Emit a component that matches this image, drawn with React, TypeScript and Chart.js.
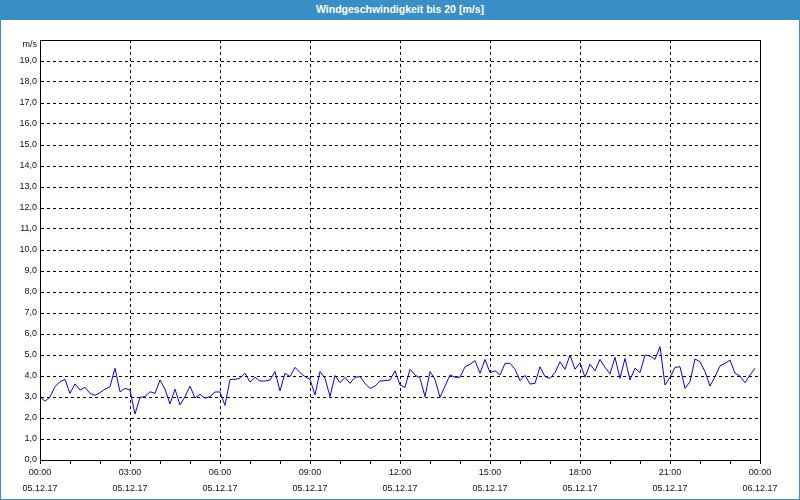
import React, { useEffect, useRef } from 'react';
import { Chart, registerables } from 'chart.js';

Chart.register(...registerables);

const TITLE = 'Windgeschwindigkeit bis 20 [m/s]';
const UNIT = 'm/s';
const INTERVAL_MIN = 10;
const DAY_MIN = 1440;

const windSpeed: number[] = [
  3.0, 2.8, 3.0, 3.5, 3.73, 3.84, 3.17, 3.62, 3.33, 3.46,
  3.17, 3.08, 3.21, 3.37, 3.49, 4.37, 3.25, 3.41, 3.33, 2.19,
  2.98, 3.02, 3.25, 3.17, 3.81, 3.37, 2.67, 3.37, 2.62, 3.02,
  3.52, 2.95, 3.13, 2.94, 3.02, 3.24, 3.24, 2.6, 3.84, 3.84,
  3.89, 4.13, 3.71, 3.94, 3.76, 3.76, 3.81, 4.21, 3.29, 4.13,
  3.97, 4.41, 4.16, 3.97, 3.84, 3.1, 4.21, 3.89, 3.02, 4.02,
  3.68, 3.94, 3.65, 3.94, 3.97, 3.65, 3.41, 3.52, 3.76, 3.78,
  3.81, 4.25, 3.57, 3.46, 4.32, 4.05, 3.89, 3.02, 4.21, 3.84,
  2.98, 3.52, 4.05, 3.94, 3.94, 4.44, 4.56, 4.73, 4.13, 4.79,
  4.16, 4.25, 4.05, 4.6, 4.6, 4.32, 3.78, 4.03, 3.62, 3.65,
  4.44, 3.97, 3.89, 4.16, 4.68, 4.32, 5.0, 4.32, 4.63, 3.94,
  4.56, 4.25, 4.79, 4.41, 4.1, 4.89, 3.89, 4.84, 3.81, 4.37,
  4.16, 5.0, 4.95, 4.79, 5.4, 3.57, 3.94, 4.41, 4.44, 3.41,
  3.73, 4.81, 4.68, 4.21, 3.52, 3.97, 4.48, 4.6, 4.76, 4.13,
  4.0, 3.68, 4.05, 4.37,
];

const timeLabels = ['00:00', '03:00', '06:00', '09:00', '12:00', '15:00', '18:00', '21:00', '00:00'];
const dateLabels = ['05.12.17', '05.12.17', '05.12.17', '05.12.17', '05.12.17', '05.12.17', '05.12.17', '05.12.17', '06.12.17'];
const LABEL_STEP_MIN = 180;
const MINOR_STEP_MIN = 60;

const Y_MIN = 0;
const Y_MAX = 20;

const FONT = '"Liberation Sans", Arial, sans-serif';
const BLUE = '#3b8fc7';
const TEXT = '#111111';

const framePlugin = {
  id: 'frame',
  afterDraw(chart: any) {
    const { ctx, chartArea: a } = chart;
    ctx.save();
    ctx.strokeStyle = '#000';
    ctx.lineWidth = 1;
    ctx.setLineDash([]);
    ctx.strokeRect(a.left + 0.5, a.top + 0.5, a.right - a.left, a.bottom - a.top);
    ctx.fillStyle = TEXT;
    ctx.font = `9px ${FONT}`;
    ctx.textAlign = 'right';
    ctx.textBaseline = 'middle';
    ctx.fillText(UNIT, a.left - 3, a.top + 5);
    ctx.restore();
  },
};

export default function App() {
  const ref = useRef<HTMLCanvasElement | null>(null);

  useEffect(() => {
    document.body.style.margin = '0';
    const canvas = ref.current;
    if (!canvas) return;
    const points = windSpeed.map((v, i) => ({ x: i * INTERVAL_MIN, y: v }));
    const chart = new Chart(canvas, {
      type: 'line',
      data: {
        datasets: [
          {
            data: points,
            borderColor: '#0000ff',
            borderWidth: 1,
            pointRadius: 0,
            tension: 0,
            fill: false,
          },
        ],
      },
      options: {
        animation: false,
        responsive: false,
        events: [],
        layout: { padding: { top: 20, right: 39, left: 0, bottom: 0 } },
        plugins: {
          legend: { display: false },
          title: { display: false },
          tooltip: { enabled: false },
        },
        scales: {
          x: {
            type: 'linear',
            min: 0,
            max: DAY_MIN,
            afterFit: (s: any) => {
              s.height = 39;
            },
            afterBuildTicks: (s: any) => {
              const t = [];
              for (let v = 0; v <= DAY_MIN; v += MINOR_STEP_MIN) t.push({ value: v });
              s.ticks = t;
            },
            ticks: {
              autoSkip: false,
              maxRotation: 0,
              padding: 1,
              color: TEXT,
              font: { family: FONT, size: 9, lineHeight: 16 / 9 },
              callback: (value: any) => {
                const v = Number(value);
                if (v % LABEL_STEP_MIN !== 0) return '';
                const idx = v / LABEL_STEP_MIN;
                return [timeLabels[idx], dateLabels[idx]];
              },
            },
            grid: {
              drawOnChartArea: true,
              tickLength: 4,
              color: (c: any) =>
                c.tick && c.tick.value % LABEL_STEP_MIN === 0 ? '#000' : 'rgba(0,0,0,0)',
              tickColor: '#000',
            },
            border: { display: true, color: '#000', width: 1, dash: [3, 3] },
          },
          y: {
            type: 'linear',
            min: Y_MIN,
            max: Y_MAX,
            afterFit: (s: any) => {
              s.width = 39;
            },
            ticks: {
              stepSize: 1,
              autoSkip: false,
              padding: 3,
              color: TEXT,
              font: { family: FONT, size: 9 },
              callback: (value: any) => {
                const v = Number(value);
                if (v === Y_MAX) return '';
                return v.toFixed(1).replace('.', ',');
              },
            },
            grid: {
              drawTicks: false,
              color: '#000',
            },
            border: { display: true, color: '#000', width: 1, dash: [3, 3] },
          },
        },
      },
      plugins: [framePlugin],
    });
    return () => chart.destroy();
  }, []);

  return (
    <div
      style={{
        width: 800,
        height: 500,
        boxSizing: 'border-box',
        border: `1px solid ${BLUE}`,
        background: '#ffffff',
        overflow: 'hidden',
      }}
    >
      <div
        style={{
          height: 19,
          background: BLUE,
          color: '#ffffff',
          fontFamily: FONT,
          fontWeight: 'bold',
          fontSize: 10.5,
          lineHeight: '17px',
          textAlign: 'center',
        }}
      >
        {TITLE}
      </div>
      <canvas ref={ref} width={798} height={479} style={{ display: 'block' }} />
    </div>
  );
}
